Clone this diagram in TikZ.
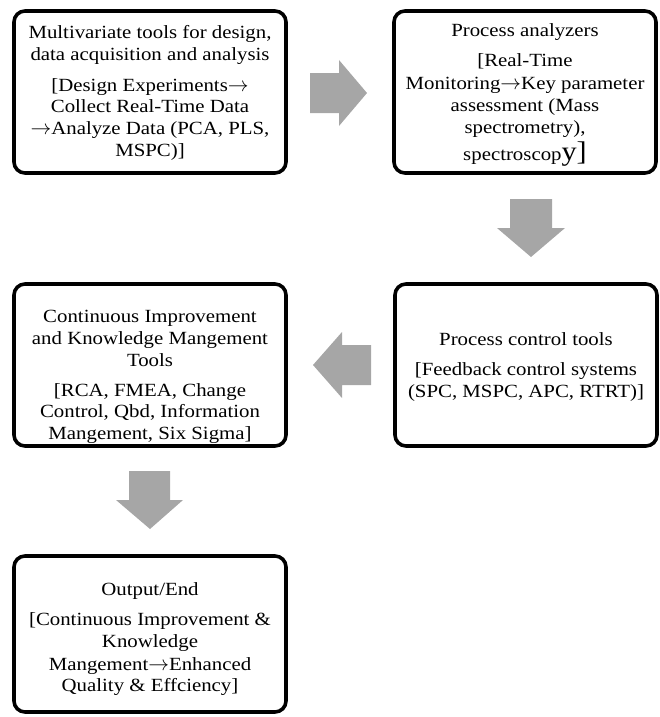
\documentclass[tikz,border=0pt]{standalone}
\usepackage{fontspec}
\setmainfont{Liberation Serif}[FakeStretch=1.12]
\definecolor{arrowgray}{RGB}{166,166,166}
\newcommand{\rarr}{{\fontsize{19.5}{19.5}\selectfont$\rightarrow$}}
\begin{document}
\begin{tikzpicture}[x=1pt,y=-1pt,
  box/.style={draw=black,line width=3.6pt,rounded corners=11pt,inner sep=0pt},
  txt/.style={align=center,inner sep=0pt,font=\fontsize{18.6}{21.7}\selectfont},
  blockarrow/.style={fill=arrowgray,draw=none}]
\useasboundingbox (0,0) rectangle (660,717);

\node[box,minimum width=272pt,minimum height=162pt] (b1) at (150,92) {};
\node[box,minimum width=262pt,minimum height=162pt] (b2) at (525,92) {};
\node[box,minimum width=272pt,minimum height=162pt] (b3) at (150,365) {};
\node[box,minimum width=262pt,minimum height=162pt] (b4) at (526,365) {};
\node[box,minimum width=272pt,minimum height=156pt] (b5) at (150,634) {};

\node[txt] (t1) at ([yshift=-1pt]b1.center) {Multivariate tools for design,\\ data acquisition and analysis\\[9pt]
  [Design Experiments\rarr\\ Collect Real-Time Data\\ \rarr Analyze Data (PCA, PLS,\\ MSPC)]};
\node[txt] (t2) at ([yshift=-3pt]b2.center) {Process analyzers\\[9pt]
  [Real-Time\\[1pt] Monitoring\rarr Key parameter\\ assessment (Mass\\ spectrometry),\\[4pt]
  spectroscop{\fontsize{27}{27}\selectfont y]}};
\node[txt] (t3) at ([yshift=-12pt]b3.center) {Continuous Improvement\\ and Knowledge Mangement\\ Tools\\[8pt]
  [RCA, FMEA, Change\\ Control, Qbd, Information\\ Mangement, Six Sigma]};
\node[txt] (t4) at ([yshift=-2pt]b4.center) {Process control tools\\[9pt]
  [Feedback control systems\\ (SPC, MSPC, APC, RTRT)]};
\node[txt] (t5) at ([yshift=-5pt]b5.center) {Output/End\\[9pt]
  [Continuous Improvement \&\\ Knowledge\\[1pt] Mangement\rarr Enhanced\\ Quality \& Effciency]};

% block arrows
\fill[blockarrow] (310,73) -- (339,73) -- (339,60) -- (367,93) -- (339,126) -- (339,113) -- (310,113) -- cycle;
\fill[blockarrow] (510,199) -- (552,199) -- (552,228) -- (565,228) -- (531,257) -- (497,228) -- (510,228) -- cycle;
\fill[blockarrow] (371,345) -- (342,345) -- (342,332) -- (313,365) -- (342,398) -- (342,385) -- (371,385) -- cycle;
\fill[blockarrow] (129,471) -- (170,471) -- (170,500) -- (183,500) -- (150,529) -- (116,500) -- (129,500) -- cycle;
\end{tikzpicture}
\end{document}
